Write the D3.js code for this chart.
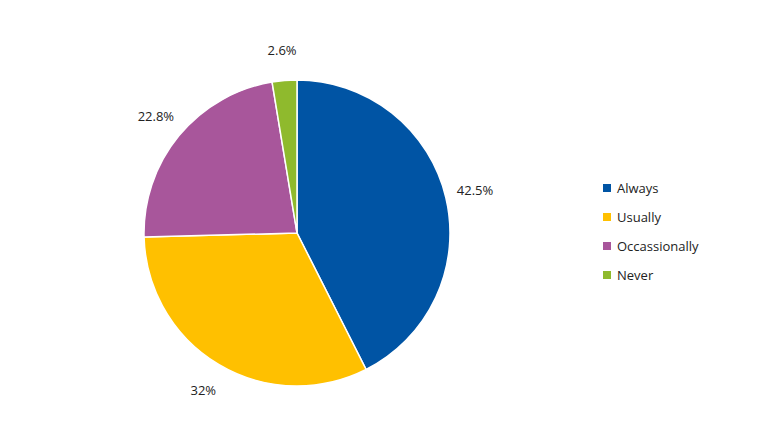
<!DOCTYPE html>
<html>
<head>
<meta charset="utf-8">
<script src="https://cdn.jsdelivr.net/npm/d3@7"></script>
<style>
  body { margin: 0; background: #fff; }
  text { font-family: "Open Sans", "Noto Sans", sans-serif; font-size: 13px; fill: #222; }
</style>
</head>
<body>
<svg id="chart" width="758" height="435"></svg>
<script>
var categories = ["Always", "Usually", "Occassionally", "Never"];
var values = [42.5, 32, 22.8, 2.6];
var labels = ["42.5%", "32%", "22.8%", "2.6%"];
var colors = ["#0054a4", "#ffc000", "#a8569b", "#8fba2d"];

var svg = d3.select("#chart");
var cx = 297, cy = 233, r = 153;

var color = d3.scaleOrdinal().domain(categories).range(colors);
var pie = d3.pie().sort(null).value(function(d) { return d.v; });
var data = pie(categories.map(function(c, i) { return { c: c, v: values[i], l: labels[i] }; }));
var arc = d3.arc().innerRadius(0).outerRadius(r);
var labelArc = d3.arc().innerRadius(183).outerRadius(183);

var g = svg.append("g").attr("transform", "translate(" + cx + "," + cy + ")");
g.selectAll("path").data(data).enter().append("path")
  .attr("d", arc)
  .attr("fill", function(d) { return color(d.data.c); })
  .attr("stroke", "#fff").attr("stroke-width", 1.5);

g.selectAll("text").data(data).enter().append("text")
  .attr("transform", function(d) { return "translate(" + labelArc.centroid(d) + ")"; })
  .attr("text-anchor", "middle").attr("dy", "0.35em")
  .text(function(d) { return d.data.l; });

// legend
var y = d3.scalePoint().domain(categories).range([188, 275]);
var leg = svg.append("g").selectAll("g").data(categories).enter().append("g")
  .attr("transform", function(d) { return "translate(603," + y(d) + ")"; });
leg.append("rect").attr("x", 0).attr("y", -4).attr("width", 8).attr("height", 8)
  .attr("fill", function(d) { return color(d); });
leg.append("text").attr("x", 14).attr("dy", "0.35em").text(function(d) { return d; });
</script>
</body>
</html>
